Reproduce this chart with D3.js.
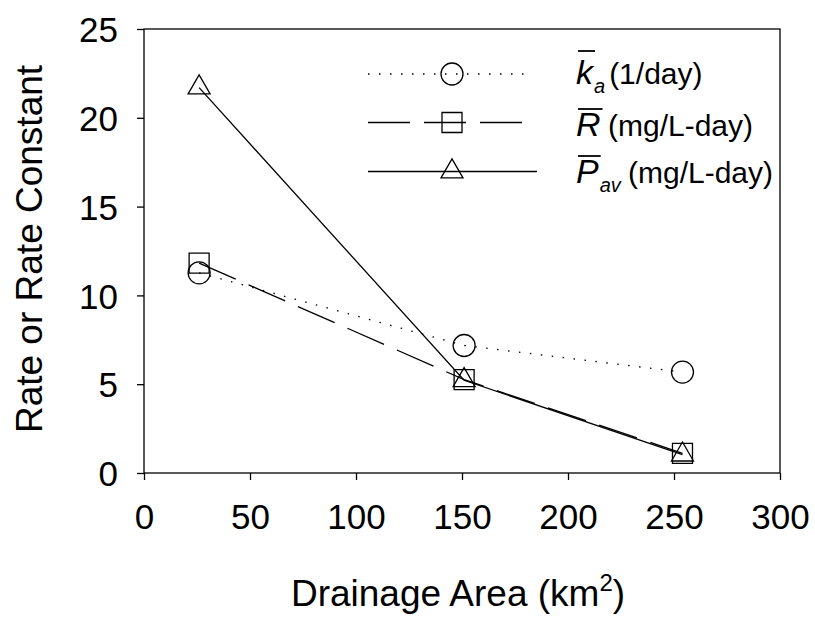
<!DOCTYPE html>
<html><head><meta charset="utf-8">
<script src="https://cdn.jsdelivr.net/npm/d3@7"></script>
<style>body{margin:0;background:#fff}svg{display:block}text{font-family:"Liberation Sans",Arial,sans-serif;fill:#000}</style>
</head><body>
<svg id="c" width="815" height="617"></svg>
<script>
const areas = [26, 151, 254];
const kaValues = [11.27, 7.18, 5.68];
const rValues = [11.82, 5.26, 1.11];
const pavValues = [21.7, 5.22, 1.03];
const xTicks = [0, 50, 100, 150, 200, 250, 300];
const yTicks = [0, 5, 10, 15, 20, 25];

const svg = d3.select("#c");
const L = 144, R = 780, T = 29, B = 473;
const x = d3.scaleLinear().domain([0, 300]).range([L, R]);
const y = d3.scaleLinear().domain([0, 25]).range([B, T]);

// frame
svg.append("rect").attr("x", L).attr("y", T).attr("width", R - L).attr("height", B - T)
  .attr("fill", "none").attr("stroke", "#000").attr("stroke-width", 1.3);

const xAxis = svg.append("g").attr("transform", `translate(0,${B})`)
  .call(d3.axisBottom(x).tickValues(xTicks).tickSize(7).tickFormat(d3.format("d")));
xAxis.select(".domain").remove();
xAxis.selectAll("line").attr("stroke-width", 1.3);
xAxis.selectAll("text").attr("font-size", 35).attr("y", 0).attr("dy", 0)
  .attr("transform", "translate(0,56)");

const yAxis = svg.append("g").attr("transform", `translate(${L},0)`)
  .call(d3.axisLeft(y).tickValues(yTicks).tickSize(7).tickFormat(d3.format("d")));
yAxis.select(".domain").remove();
yAxis.selectAll("line").attr("stroke-width", 1.3);
yAxis.selectAll("text").attr("font-size", 35).attr("x", -26).attr("dy", "0.36em");
svg.selectAll(".tick text").style("font-family", '"Liberation Sans",Arial,sans-serif');

// axis titles
svg.append("text").attr("transform", "translate(42,249) rotate(-90)").attr("text-anchor", "middle")
  .attr("font-size", 37).text("Rate or Rate Constant");
const xt = svg.append("text").attr("x", 458).attr("y", 606).attr("text-anchor", "middle").attr("font-size", 37);
xt.append("tspan").text("Drainage Area (km");
xt.append("tspan").attr("font-size", 24).attr("dy", -15).text("2");
xt.append("tspan").attr("dy", 15).text(")");

const line = d3.line().x(d => x(d[0])).y(d => y(d[1]));
const series = [
  {vals: kaValues, dash: "1.5,9.5", sym: "circle"},
  {vals: rValues, dash: "40,14", sym: "square"},
  {vals: pavValues, dash: null, sym: "triangle"}
];
function symPath(s) {
  if (s === "circle") return d3.arc()({innerRadius: 0, outerRadius: 11, startAngle: 0, endAngle: 2 * Math.PI});
  if (s === "square") return "M-10,-10H10V10H-10Z";
  return "M0,-12.7L11,6.3L-11,6.3Z";
}
series.forEach(s => {
  const pts = areas.map((a, i) => [a, s.vals[i]]);
  svg.append("path").attr("d", line(pts)).attr("fill", "none").attr("stroke", "#000")
    .attr("stroke-width", 1.3).attr("stroke-dasharray", s.dash);
  svg.selectAll(null).data(pts).enter().append("path")
    .attr("transform", d => `translate(${x(d[0])},${y(d[1])})`)
    .attr("d", symPath(s.sym)).attr("fill", "none").attr("stroke", "#000").attr("stroke-width", 1.3);
});

// legend
const legRows = [
  {y: 74, x1: 368, x2: 532, dash: "1.5,9.5", sym: "circle", letter: "k", sub: "a", unit: "(1/day)", ux: 608, base: 84, bar: 33},
  {y: 122.5, x1: 368, x2: 522, dash: "42,14", sym: "square", letter: "R", sub: "", unit: "(mg/L-day)", ux: 608, base: 136, bar: 27},
  {y: 171.5, x1: 368, x2: 537, dash: null, sym: "triangle", letter: "P", sub: "av", unit: "(mg/L-day)", ux: 628, base: 183, bar: 27}
];
legRows.forEach(r => {
  svg.append("line").attr("x1", r.x1).attr("x2", r.x2).attr("y1", r.y).attr("y2", r.y)
    .attr("stroke", "#000").attr("stroke-width", 1.3).attr("stroke-dasharray", r.dash);
  svg.append("path").attr("transform", `translate(452,${r.y})`).attr("d", symPath(r.sym))
    .attr("fill", "none").attr("stroke", "#000").attr("stroke-width", 1.3);
  const t = svg.append("text").attr("x", 576).attr("y", r.base).attr("font-size", 34)
    .attr("font-style", "italic").text(r.letter);
  const w = t.node().getComputedTextLength();
  svg.append("line").attr("x1", 578).attr("x2", 576 + w + 2).attr("y1", r.base - r.bar).attr("y2", r.base - r.bar)
    .attr("stroke", "#000").attr("stroke-width", 1.8);
  let end = 576 + w;
  if (r.sub) {
    const s = svg.append("text").attr("x", 576 + w + 1).attr("y", r.base + 9).attr("font-size", 20)
      .attr("font-style", "italic").text(r.sub);
    end = 576 + w + 1 + s.node().getComputedTextLength();
  }
  svg.append("text").attr("x", Math.max(r.ux, end + 4)).attr("y", r.base).attr("font-size", 30).text(r.unit);
});
</script>
</body></html>
